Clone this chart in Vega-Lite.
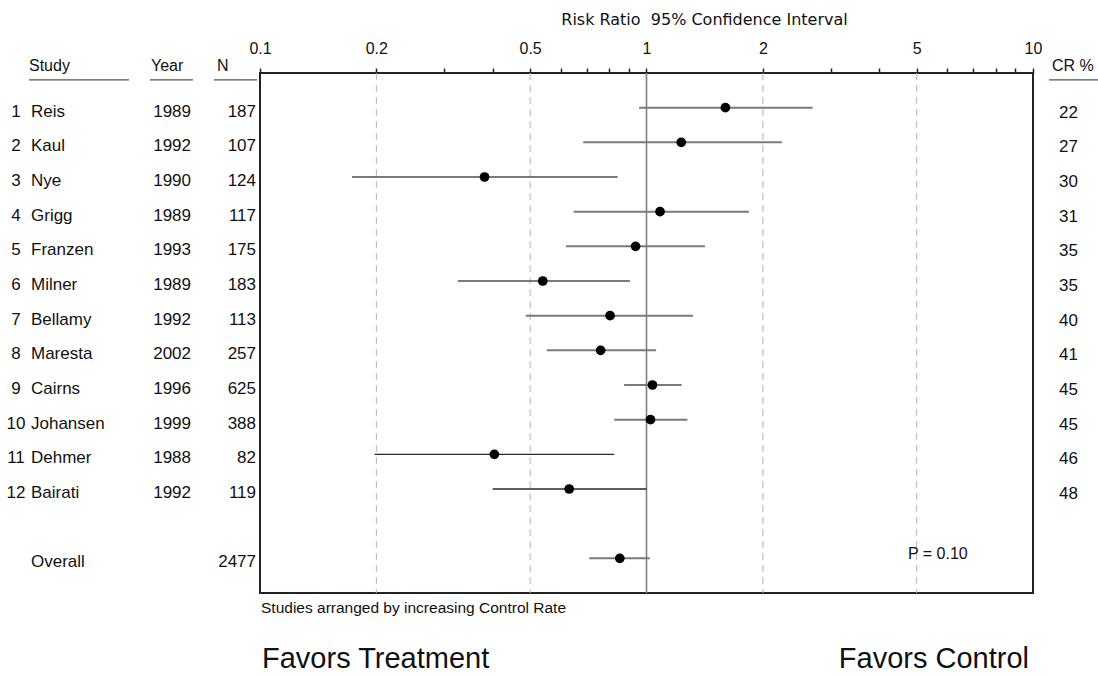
{
  "$schema": "https://vega.github.io/schema/vega-lite/v6.json",
  "width": 773,
  "height": 520,
  "autosize": {"type": "none"},
  "padding": {"left": 260, "top": 73, "right": 65, "bottom": 84},
  "background": "white",
  "config": {
    "view": {"stroke": "#222", "strokeWidth": 2},
    "font": "Liberation Sans",
    "text": {"font": "Liberation Sans", "color": "#111"}
  },
  "data": {
    "values": [
      {"row": 1, "num": 1, "study": "Reis", "year": 1989, "n": 187, "rr": 1.60, "lo": 0.957, "hi": 2.69, "cr": 22},
      {"row": 2, "num": 2, "study": "Kaul", "year": 1992, "n": 107, "rr": 1.23, "lo": 0.686, "hi": 2.24, "cr": 27},
      {"row": 3, "num": 3, "study": "Nye", "year": 1990, "n": 124, "rr": 0.381, "lo": 0.173, "hi": 0.842, "cr": 30},
      {"row": 4, "num": 4, "study": "Grigg", "year": 1989, "n": 117, "rr": 1.084, "lo": 0.648, "hi": 1.84, "cr": 31},
      {"row": 5, "num": 5, "study": "Franzen", "year": 1993, "n": 175, "rr": 0.937, "lo": 0.619, "hi": 1.417, "cr": 35},
      {"row": 6, "num": 6, "study": "Milner", "year": 1989, "n": 183, "rr": 0.539, "lo": 0.325, "hi": 0.906, "cr": 35},
      {"row": 7, "num": 7, "study": "Bellamy", "year": 1992, "n": 113, "rr": 0.805, "lo": 0.487, "hi": 1.32, "cr": 40},
      {"row": 8, "num": 8, "study": "Maresta", "year": 2002, "n": 257, "rr": 0.761, "lo": 0.552, "hi": 1.059, "cr": 41},
      {"row": 9, "num": 9, "study": "Cairns", "year": 1996, "n": 625, "rr": 1.036, "lo": 0.875, "hi": 1.233, "cr": 45},
      {"row": 10, "num": 10, "study": "Johansen", "year": 1999, "n": 388, "rr": 1.024, "lo": 0.825, "hi": 1.276, "cr": 45},
      {"row": 11, "num": 11, "study": "Dehmer", "year": 1988, "n": 82, "rr": 0.404, "lo": 0.198, "hi": 0.825, "cr": 46},
      {"row": 12, "num": 12, "study": "Bairati", "year": 1992, "n": 119, "rr": 0.631, "lo": 0.400, "hi": 1.0, "cr": 48},
      {"row": 14, "num": null, "study": "Overall", "year": null, "n": 2477, "rr": 0.853, "lo": 0.711, "hi": 1.02, "cr": null}
    ]
  },
  "layer": [
    {
      "layer": [
        {
          "data": {"values": [{"ref": 0.2}, {"ref": 0.5}, {"ref": 2}, {"ref": 5}]},
          "mark": {"type": "rule", "color": "#b4b4b4", "strokeWidth": 1, "strokeDash": [7, 5]},
          "encoding": {
            "x": {"field": "ref", "type": "quantitative"}
          }
        },
        {
          "data": {"values": [{}]},
          "mark": {"type": "rule", "color": "#808080", "strokeWidth": 1.6},
          "encoding": {
            "x": {"datum": 1, "type": "quantitative"}
          }
        },
        {
          "mark": {"type": "rule"},
          "encoding": {
            "y": {"field": "row", "type": "quantitative", "scale": {"domain": [0, 15], "reverse": true, "nice": false, "zero": false}, "axis": null},
            "x": {
              "field": "lo",
              "type": "quantitative",
              "scale": {"type": "log", "domain": [0.1, 10], "nice": false},
              "axis": {
                "orient": "top",
                "values": [0.1, 0.2, 0.3, 0.4, 0.5, 0.6, 0.7, 0.8, 0.9, 1, 2, 3, 4, 5, 6, 7, 8, 9, 10],
                "format": "~g",
                "labelExpr": "test(/^(0\\.1|0\\.2|0\\.5|1|2|5|10)$/, datum.label) ? datum.label : ''",
                "grid": false,
                "domain": false,
                "ticks": true,
                "tickSize": 5,
                "tickWidth": 1.5,
                "tickColor": "#222",
                "labelFont": "Liberation Sans",
                "labelFontSize": 16,
                "labelColor": "#111",
                "labelBaseline": "alphabetic",
                "labelPadding": 15,
                "labelFlush": false,
                "labelOverlap": false,
                "title": "Risk Ratio\u00a0 95% Confidence Interval",
                "titleFont": "DejaVu Sans",
                "titleFontSize": 16,
                "titleFontWeight": "normal",
                "titleColor": "#111",
                "titleX": 444,
                "titleY": -49,
                "titleAlign": "center",
                "titleBaseline": "alphabetic",
                "titleAnchor": null
              }
            },
            "x2": {"field": "hi"},
            "color": {"condition": {"test": "datum.row >= 11 && datum.row <= 12", "value": "#2a2a2a"}, "value": "#7a7a7a"},
            "strokeWidth": {"condition": {"test": "datum.row >= 11 && datum.row <= 12", "value": 1.3}, "value": 2}
          }
        },
        {
          "mark": {"type": "circle", "color": "#000", "opacity": 1, "size": 95},
          "encoding": {
            "y": {"field": "row", "type": "quantitative"},
            "x": {"field": "rr", "type": "quantitative"}
          }
        }
      ]
    },
    {
      "encoding": {
        "x": {"scale": {"type": "linear", "domain": [260, 1033], "nice": false, "zero": false}, "axis": null}
      },
      "layer": [
        {
          "transform": [{"filter": "datum.num != null"}],
          "mark": {"type": "text", "fontSize": 17, "align": "center", "baseline": "alphabetic", "dy": 9},
          "encoding": {
            "x": {"datum": 16, "type": "quantitative"},
            "y": {"field": "row", "type": "quantitative"},
            "text": {"field": "num", "type": "nominal"}
          }
        },
        {
          "mark": {"type": "text", "fontSize": 17, "align": "left", "baseline": "alphabetic", "dy": 9},
          "encoding": {
            "x": {"datum": 31, "type": "quantitative"},
            "y": {"field": "row", "type": "quantitative"},
            "text": {"field": "study", "type": "nominal"}
          }
        },
        {
          "transform": [{"filter": "datum.year != null"}],
          "mark": {"type": "text", "fontSize": 17, "align": "right", "baseline": "alphabetic", "dy": 9},
          "encoding": {
            "x": {"datum": 191, "type": "quantitative"},
            "y": {"field": "row", "type": "quantitative"},
            "text": {"field": "year", "type": "nominal"}
          }
        },
        {
          "mark": {"type": "text", "fontSize": 17, "align": "right", "baseline": "alphabetic", "dy": 9},
          "encoding": {
            "x": {"datum": 256, "type": "quantitative"},
            "y": {"field": "row", "type": "quantitative"},
            "text": {"field": "n", "type": "nominal"}
          }
        },
        {
          "transform": [{"filter": "datum.cr != null"}],
          "mark": {"type": "text", "fontSize": 17, "align": "center", "baseline": "alphabetic", "dy": 10},
          "encoding": {
            "x": {"datum": 1068.5, "type": "quantitative"},
            "y": {"field": "row", "type": "quantitative"},
            "text": {"field": "cr", "type": "nominal"}
          }
        },
        {
          "data": {"values": [{}]},
          "mark": {"type": "text", "text": "Study", "fontSize": 16, "align": "left", "baseline": "alphabetic", "dy": -2},
          "encoding": {"x": {"datum": 29, "type": "quantitative"}, "y": {"datum": 0, "type": "quantitative"}}
        },
        {
          "data": {"values": [{}]},
          "mark": {"type": "text", "text": "Year", "fontSize": 16, "align": "left", "baseline": "alphabetic", "dy": -2},
          "encoding": {"x": {"datum": 151, "type": "quantitative"}, "y": {"datum": 0, "type": "quantitative"}}
        },
        {
          "data": {"values": [{}]},
          "mark": {"type": "text", "text": "N", "fontSize": 16, "align": "left", "baseline": "alphabetic", "dy": -2},
          "encoding": {"x": {"datum": 217, "type": "quantitative"}, "y": {"datum": 0, "type": "quantitative"}}
        },
        {
          "data": {"values": [{}]},
          "mark": {"type": "text", "text": "CR %", "fontSize": 16, "align": "left", "baseline": "alphabetic", "dy": -2},
          "encoding": {"x": {"datum": 1052, "type": "quantitative"}, "y": {"datum": 0, "type": "quantitative"}}
        },
        {
          "data": {"values": [{"a": 29, "b": 129}, {"a": 150, "b": 193}, {"a": 214, "b": 257}, {"a": 1049, "b": 1098}]},
          "mark": {"type": "rule", "color": "#555", "strokeWidth": 1.2},
          "encoding": {
            "x": {"field": "a", "type": "quantitative"},
            "x2": {"field": "b"},
            "y": {"datum": 0.2, "type": "quantitative"}
          }
        },
        {
          "data": {"values": [{}]},
          "mark": {"type": "text", "text": "P = 0.10", "fontSize": 16, "align": "left", "baseline": "alphabetic", "dy": 1},
          "encoding": {"x": {"datum": 908, "type": "quantitative"}, "y": {"datum": 14, "type": "quantitative"}}
        },
        {
          "data": {"values": [{}]},
          "mark": {"type": "text", "text": "Studies arranged by increasing Control Rate", "fontSize": 15.5, "align": "left", "baseline": "alphabetic", "dy": 20},
          "encoding": {"x": {"datum": 261, "type": "quantitative"}, "y": {"datum": 15, "type": "quantitative"}}
        },
        {
          "data": {"values": [{}]},
          "mark": {"type": "text", "text": "Favors Treatment", "fontSize": 29, "align": "left", "baseline": "alphabetic", "dy": 75},
          "encoding": {"x": {"datum": 262, "type": "quantitative"}, "y": {"datum": 15, "type": "quantitative"}}
        },
        {
          "data": {"values": [{}]},
          "mark": {"type": "text", "text": "Favors Control", "fontSize": 29, "align": "right", "baseline": "alphabetic", "dy": 75},
          "encoding": {"x": {"datum": 1029, "type": "quantitative"}, "y": {"datum": 15, "type": "quantitative"}}
        }
      ]
    }
  ],
  "resolve": {"scale": {"x": "independent"}, "axis": {"x": "independent"}}
}
